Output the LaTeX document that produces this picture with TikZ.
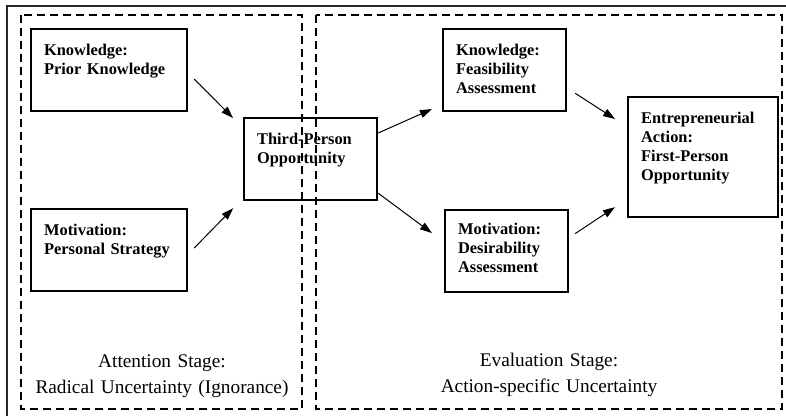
\documentclass[tikz,border=0pt]{standalone}
\usepackage{fontspec}
\setmainfont{Liberation Serif}
\usetikzlibrary{arrows.meta}
\newcommand\boxfont{\fontsize{16.4}{19}\selectfont\bfseries}
\newcommand\stagefont{\fontsize{19.3}{26}\selectfont}
\tikzset{
  stagebox/.style={draw, line width=2.2pt, anchor=north west, align=left,
    inner xsep=13pt, inner ysep=0pt, text height=26pt, font=\boxfont},
  stagezone/.style={dash pattern=on 8pt off 5pt, line width=2.3pt},
  stagelabel/.style={anchor=base, align=center, text width=300pt, inner sep=0pt, font=\stagefont},
  flow/.style={-{Triangle[length=12pt,width=8pt]}, line width=1pt}
}
\begin{document}
\begin{tikzpicture}[x=1pt, y=-1pt]
\useasboundingbox (0,0) rectangle (786,416);
% Outer frame
\draw[line width=1.2pt, black!85] (7,416) -- (7,6) -- (786,6);
% Boxes
\node[stagebox, text width=130pt, text depth=56pt] (kp) at (30,28) {Knowledge:\\Prior Knowledge};
\node[stagebox, text width=130pt, text depth=56pt] (ps) at (30,208) {Motivation:\\Personal Strategy};
\node[stagebox, text width=107pt, text depth=56pt] (tp) at (243,117) {Third-Person\\Opportunity};
\node[stagebox, text width=97pt, text depth=56pt] (fa) at (442,28) {Knowledge:\\Feasibility\\Assessment};
\node[stagebox, text width=97pt, text depth=58pt, text height=24pt] (da) at (444,209) {Motivation:\\Desirability\\Assessment};
\node[stagebox, text width=124pt, text depth=94pt] (ea) at (627,96) {Entrepreneurial\\Action:\\First-Person\\Opportunity};
% Arrows
\draw[flow, shorten <=8.5pt, shorten >=14pt] ([yshift=-3pt]kp.east) -- ([yshift=-11pt]tp.north west);
\draw[flow, shorten <=8.5pt, shorten >=14pt] ([yshift=-4pt]ps.east) -- ([yshift=3pt]tp.south west);
\draw[flow, shorten >=11pt] ([yshift=-16pt]tp.north east) -- ([yshift=7.6pt]fa.south west);
\draw[flow, shorten >=15pt] ([yshift=8pt]tp.south east) -- ([yshift=-33pt]da.north west);
\draw[flow, shorten <=9.4pt, shorten >=14.2pt] ([yshift=-18pt]fa.east) -- ([yshift=-30.7pt]ea.north west);
\draw[flow, shorten <=7.2pt, shorten >=14.4pt] ([yshift=13.5pt]da.east) -- ([yshift=19pt]ea.south west);
% Stage zones
\draw[stagezone] (21,15) rectangle (302,409);
\draw[stagezone] (316,15) rectangle (782,409);
\node[stagelabel] (att) at (162,367) {Attention Stage:\\Radical Uncertainty (Ignorance)};
\node[stagelabel] (eva) at (549,366) {Evaluation Stage:\\Action-specific Uncertainty};
\end{tikzpicture}
\end{document}
